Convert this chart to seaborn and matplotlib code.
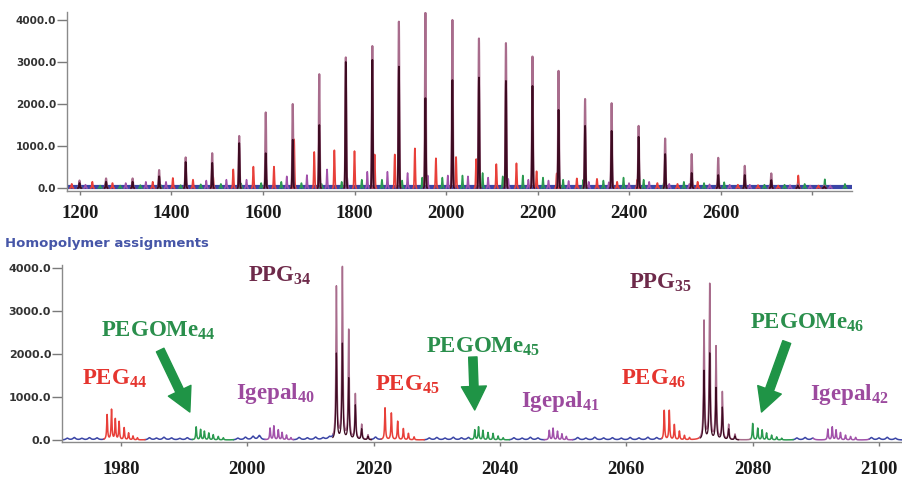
import numpy as np
import pandas as pd
import matplotlib
matplotlib.use("Agg")
import matplotlib.pyplot as plt
import seaborn as sns
from matplotlib.patches import FancyArrowPatch

# ---------------- survey spectrum (upper panel): peak m/z and intensities ----------------
ppg_mz = [1199, 1257, 1315, 1373, 1431, 1489, 1548, 1606, 1665, 1723, 1781, 1839, 1897, 1955,
          2014, 2072, 2131, 2189, 2246, 2304, 2362, 2421, 2479, 2537, 2595, 2653, 2711, 2769, 2827]
ppg_int = [180, 230, 230, 430, 730, 830, 1240, 1800, 2000, 2710, 3110, 3380, 3960, 4170,
           4000, 3560, 3450, 3130, 2790, 2120, 2020, 1480, 1180, 810, 720, 530, 350, 90, 60]
ppg_iso_int = [120, 150, 150, 280, 620, 600, 1070, 830, 1150, 1500, 3000, 3050, 2890, 2140,
               2570, 2630, 2550, 2430, 1860, 1480, 1360, 1220, 810, 360, 310, 310, 190, 60, 40]

peg_mz = [1182, 1227, 1271, 1315, 1359, 1403, 1447, 1491, 1535, 1579, 1624, 1668, 1712, 1756,
          1800, 1844, 1888, 1932, 1978, 2022, 2066, 2110, 2154, 2198, 2242, 2286, 2330, 2374,
          2418, 2462, 2506, 2550, 2594, 2638, 2682, 2726, 2770, 2814]
peg_int = [100, 150, 120, 150, 150, 240, 200, 270, 445, 510, 510, 1160, 860, 900,
           880, 800, 800, 945, 710, 740, 690, 570, 590, 400, 350, 230, 220, 150,
           200, 120, 100, 150, 110, 80, 70, 60, 300, 60]

gome_mz = [1200, 1244, 1288, 1332, 1376, 1420, 1464, 1508, 1552, 1596, 1640, 1684, 1728, 1772,
           1816, 1860, 1904, 1948, 1992, 2036, 2080, 2124, 2168, 2212, 2256, 2300, 2344, 2388,
           2432, 2476, 2520, 2564, 2608, 2652, 2696, 2740, 2784, 2828, 2872]
gome_int = [50, 60, 60, 70, 80, 70, 90, 100, 110, 120, 150, 120, 100, 150,
            200, 200, 180, 250, 250, 300, 360, 280, 300, 250, 200, 200, 180, 250,
            200, 120, 150, 120, 140, 100, 80, 80, 100, 210, 100]

igepal_mz = [1212, 1256, 1300, 1344, 1388, 1432, 1476, 1520, 1564, 1608, 1652, 1696, 1740, 1784,
             1828, 1872, 1916, 1960, 2004, 2048, 2092, 2136, 2180, 2224, 2268, 2312, 2356, 2400,
             2444, 2488, 2532, 2576, 2620, 2664, 2708, 2752, 2796, 2840]
igepal_int = [80, 100, 120, 150, 150, 130, 180, 200, 200, 190, 280, 310, 445, 250,
              390, 390, 360, 300, 300, 280, 250, 220, 200, 180, 170, 150, 140, 120,
              150, 100, 100, 90, 80, 80, 70, 70, 60, 60]

scan_range = [1172, 2887]

# ---------------- zoomed region (lower panel): isotope clusters ----------------
peg44_mz = [1977.8, 1978.5, 1979.1, 1979.7, 1980.5, 1981.2, 1981.9, 1982.6]
peg44_int = [580, 700, 480, 420, 280, 160, 90, 50]
peg45_mz = [2021.8, 2022.8, 2023.8, 2024.7, 2025.5, 2026.4]
peg45_int = [740, 620, 430, 260, 150, 70]
peg46_mz = [2066.0, 2066.8, 2067.6, 2068.4, 2069.2, 2070.0]
peg46_int = [680, 680, 350, 200, 100, 50]

gome44_mz = [1991.9, 1992.6, 1993.2, 1993.9, 1994.6, 1995.4, 1996.2]
gome44_int = [300, 240, 200, 160, 120, 80, 50]
gome45_mz = [2036.0, 2036.6, 2037.3, 2038.1, 2038.9, 2039.7, 2040.5]
gome45_int = [230, 300, 220, 170, 150, 90, 50]
gome46_mz = [2080.0, 2080.8, 2081.5, 2082.2, 2083.0, 2083.8, 2084.6]
gome46_int = [380, 270, 230, 160, 110, 70, 40]

igepal40_mz = [2003.6, 2004.2, 2004.9, 2005.5, 2006.2, 2006.9]
igepal40_int = [270, 320, 230, 170, 110, 50]
igepal41_mz = [2047.8, 2048.4, 2049.1, 2049.8, 2050.5]
igepal41_int = [220, 270, 200, 140, 80]
igepal42_mz = [2091.9, 2092.6, 2093.2, 2093.9, 2094.7, 2095.5, 2096.3]
igepal42_int = [250, 300, 230, 170, 110, 80, 60]

ppg34_mz = [2014.1, 2015.05, 2016.05, 2017.1, 2018.1, 2019.1]
ppg34_int = [3540, 4030, 2560, 1050, 350, 110]
ppg34_iso_int = [2000, 2250, 1440, 800, 250, 80]
ppg35_mz = [2072.3, 2073.2, 2074.2, 2075.2, 2076.2, 2077.2]
ppg35_int = [2750, 3600, 2150, 1100, 350, 130]
ppg35_iso_int = [1600, 2000, 1200, 750, 250, 90]

noise_mz = [1971.5, 1972.6, 1973.8, 1975.0, 1976.2, 1984.5, 1985.6, 1986.8, 1988.0, 1989.3,
            1990.5, 1998.5, 1999.7, 2000.9, 2001.9, 2008.2, 2009.5, 2010.8, 2012.0, 2013.0,
            2020.3, 2028.8, 2030.0, 2031.3, 2032.6, 2033.9, 2035.0, 2042.2, 2043.5, 2044.8,
            2046.0, 2052.3, 2053.6, 2055.0, 2056.4, 2057.8, 2059.2, 2060.6, 2062.0, 2063.4,
            2064.8, 2087.0, 2088.3, 2089.5, 2098.8, 2100.0, 2101.3, 2102.6]
noise_int = [40, 55, 35, 50, 45, 50, 40, 60, 45, 35,
             50, 40, 60, 80, 100, 55, 45, 60, 40, 50,
             60, 45, 55, 40, 60, 45, 55, 50, 40, 60,
             45, 55, 40, 60, 45, 50, 40, 55, 45, 60,
             50, 45, 55, 40, 55, 45, 60, 40]

# coloured stretches of the zoomed trace: (start, end, assignment)
seg_start = [1970.6, 1977.3, 1983.8, 1991.3, 1997.8, 2002.8, 2007.3, 2013.6, 2019.6, 2021.2,
             2028.0, 2035.3, 2041.5, 2047.0, 2051.5, 2065.6, 2071.6, 2079.6, 2086.4, 2089.6, 2098.4]
seg_end = [1977.3, 1983.8, 1991.3, 1997.8, 2002.8, 2007.3, 2013.6, 2019.6, 2021.2, 2028.0,
           2035.3, 2041.5, 2047.0, 2051.5, 2065.6, 2071.6, 2079.6, 2086.4, 2089.6, 2098.4, 2103.9]
seg_label = ["base", "PEG", "base", "PEGOMe", "base", "Igepal", "base", "PPG", "base", "PEG",
             "base", "PEGOMe", "base", "Igepal", "base", "PEG", "PPG", "PEGOMe", "base", "Igepal", "base"]

colors = {"base": "#3a45a6", "PEG": "#e8403a", "PEGOMe": "#2b9a50",
          "Igepal": "#a252aa", "PPG": "#a86c8c"}
ppg_dark = "#3e0b22"

# ---------------- style ----------------
sns.set_theme(style="white")
plt.rcParams["font.family"] = ["DejaVu Sans"]
plt.rcParams.update({
    "mathtext.fontset": "custom",
    "mathtext.rm": "Liberation Serif:bold",
    "mathtext.it": "Liberation Serif:bold",
    "mathtext.bf": "Liberation Serif:bold",
    "mathtext.default": "rm",
})

W, H = 903, 478
fig = plt.figure(figsize=(W / 100, H / 100), dpi=100)
ax_top = fig.add_axes([67 / W, 1 - 191 / H, 785 / W, 179 / H])
ax_bot = fig.add_axes([62 / W, 1 - 442 / H, 841 / W, 177.4 / H])


def stick_frame(mz, inten, sigma=1.0, half=4.0, step=0.25):
    rows = []
    offs = np.arange(-half, half + step / 2, step)
    for k, (m, h) in enumerate(zip(mz, inten)):
        prof = h * np.exp(-0.5 * (offs / sigma) ** 2)
        rows.append(pd.DataFrame({"mz": m + offs, "intensity": prof, "peak": k}))
    return pd.concat(rows, ignore_index=True)


def lorentz_sum(grid, mz, inten, gamma):
    out = np.zeros_like(grid)
    for m, h in zip(mz, inten):
        out += h * gamma ** 2 / ((grid - m) ** 2 + gamma ** 2)
    return out


# ---- upper panel ----
base_top = pd.DataFrame({"mz": scan_range, "intensity": [15, 15]})
sns.lineplot(data=base_top, x="mz", y="intensity", color=colors["base"], lw=3.0, ax=ax_top)
for mz, inten, key, lw in [(igepal_mz, igepal_int, "Igepal", 1.1),
                           (gome_mz, gome_int, "PEGOMe", 1.1),
                           (peg_mz, peg_int, "PEG", 1.2),
                           (ppg_mz, ppg_int, "PPG", 1.5)]:
    sns.lineplot(data=stick_frame(mz, inten), x="mz", y="intensity", units="peak",
                 estimator=None, color=colors[key], lw=lw, ax=ax_top, legend=False)
sns.lineplot(data=stick_frame(ppg_mz, ppg_iso_int), x="mz", y="intensity", units="peak",
             estimator=None, color=ppg_dark, lw=1.3, ax=ax_top, legend=False)

# ---- lower panel ----
grid = np.arange(1970.6, 2103.95, 0.02)
all_mz = (peg44_mz + peg45_mz + peg46_mz + gome44_mz + gome45_mz + gome46_mz +
          igepal40_mz + igepal41_mz + igepal42_mz)
all_int = (peg44_int + peg45_int + peg46_int + gome44_int + gome45_int + gome46_int +
           igepal40_int + igepal41_int + igepal42_int)
total = (lorentz_sum(grid, all_mz, all_int, 0.08)
         + lorentz_sum(grid, ppg34_mz + ppg35_mz, ppg34_int + ppg35_int, 0.09)
         + lorentz_sum(grid, noise_mz, noise_int, 0.25))

parts = []
for s, (a, b, lab) in enumerate(zip(seg_start, seg_end, seg_label)):
    sel = (grid >= a - 0.021) & (grid <= b + 0.021)
    parts.append(pd.DataFrame({"mz": grid[sel], "intensity": total[sel],
                               "assignment": lab, "segment": s}))
trace = pd.concat(parts, ignore_index=True)
sns.lineplot(data=trace, x="mz", y="intensity", hue="assignment", units="segment",
             estimator=None, palette=colors, lw=1.1, ax=ax_bot, legend=False)

dark_parts = []
for c, (mz, iso) in enumerate([(ppg34_mz, ppg34_iso_int), (ppg35_mz, ppg35_iso_int)]):
    sel = (grid >= mz[0] - 0.6) & (grid <= mz[-1] + 0.6)
    dark_parts.append(pd.DataFrame({"mz": grid[sel],
                                    "intensity": lorentz_sum(grid[sel], mz, iso, 0.09),
                                    "cluster": c}))
sns.lineplot(data=pd.concat(dark_parts, ignore_index=True), x="mz", y="intensity",
             units="cluster", estimator=None, color=ppg_dark, lw=0.9, ax=ax_bot, legend=False)

# ---- axes cosmetics ----
yt = [0, 1000, 2000, 3000, 4000]
for ax, xl, yl, xt, xlabels, ysize, xpad in [
        (ax_top, (1171.6, 2887.4), (-70, 4190), list(range(1200, 2801, 200)),
         [str(v) for v in range(1200, 2601, 200)] + [""], 7.5, 7.0),
        (ax_bot, (1970.66, 2103.8), (-46, 4080), list(range(1980, 2101, 20)),
         [str(v) for v in range(1980, 2101, 20)], 8.0, 11.0)]:
    ax.set_xlim(*xl)
    ax.set_ylim(*yl)
    ax.set_xlabel("")
    ax.set_ylabel("")
    ax.set_yticks(yt)
    ax.set_yticklabels([f"{v:.1f}" for v in yt], fontsize=ysize, fontweight="bold",
                       color="#333333")
    ax.set_xticks(xt)
    ax.set_xticklabels(xlabels, fontsize=13.5, fontweight="bold",
                       family="Liberation Serif", color="#1a1a1a")
    ax.tick_params(axis="y", left=True, direction="out", length=7, width=1.0,
                   color="#7a7a7a", pad=0.8)
    ax.tick_params(axis="x", bottom=True, direction="out", length=3, width=1.0,
                   color="#7a7a7a", pad=xpad)
    for side in ("top", "right"):
        ax.spines[side].set_visible(False)
    for side in ("left", "bottom"):
        ax.spines[side].set_color("#8a8a8a")
        ax.spines[side].set_linewidth(1.0)

fig.text(5 / W, 1 - 244 / H, "Homopolymer assignments", color="#4656a8",
         fontsize=9.5, fontweight="bold", ha="left", va="center")

# ---- assignment labels ----
label_txt = [r"PPG$_{34}$", r"PEGOMe$_{44}$", r"PEG$_{44}$", r"Igepal$_{40}$",
             r"PEG$_{45}$", r"PEGOMe$_{45}$", r"Igepal$_{41}$",
             r"PPG$_{35}$", r"PEG$_{46}$", r"PEGOMe$_{46}$", r"Igepal$_{42}$"]
label_key = ["PPG", "PEGOMe", "PEG", "Igepal", "PEG", "PEGOMe", "Igepal",
             "PPG", "PEG", "PEGOMe", "Igepal"]
label_mz = [2005.2, 1985.9, 1979.0, 2004.4, 2025.3, 2037.3, 2049.6, 2065.5, 2064.3, 2088.7, 2095.3]
label_y = [3674, 2403, 1295, 953, 1140, 2039, 775, 3512, 1295, 2581, 930]
text_colors = {"PPG": "#6e2a4a", "PEGOMe": "#2a8f4c", "PEG": "#e5352f", "Igepal": "#9c4a9e"}

for t, k, m, y in zip(label_txt, label_key, label_mz, label_y):
    ax_bot.text(m, y, t, ha="center", va="baseline", fontsize=16.5, fontweight="bold",
                family="Liberation Serif", color=text_colors[k], clip_on=False)

arrow_from = [(1986.2, 2093), (2035.7, 1930), (2085.4, 2279)]
arrow_to = [(1990.9, 651), (2036.0, 698), (2081.4, 651)]
for a, b in zip(arrow_from, arrow_to):
    ax_bot.add_patch(FancyArrowPatch(
        a, b, arrowstyle="simple,head_width=1.8,head_length=1.7,tail_width=0.6",
        mutation_scale=10, color="#1f9446", shrinkA=0, shrinkB=0, clip_on=False))

fig.savefig("out.png", dpi=100)
